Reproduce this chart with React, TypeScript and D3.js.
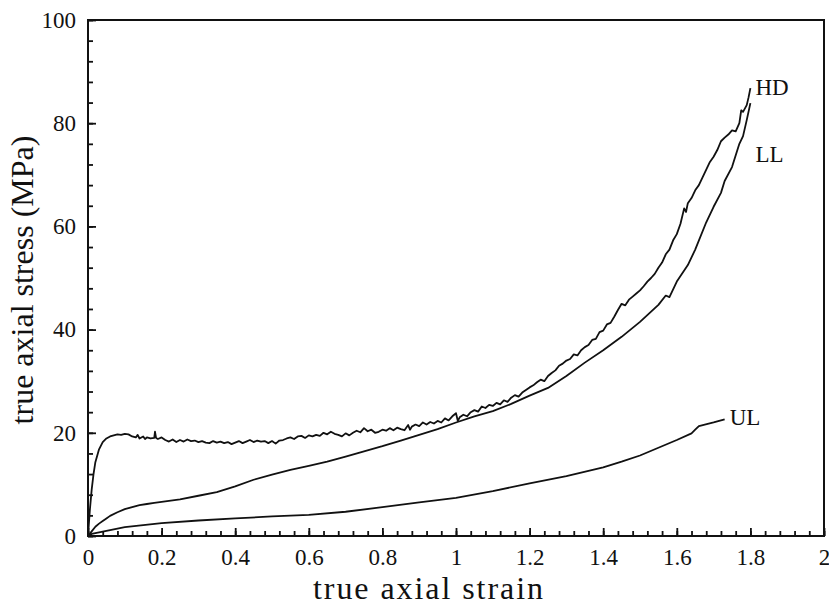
import React, { useEffect, useRef } from 'react';
import * as d3 from 'd3';

// [strain, stress] pairs
const hdCurve: [number, number][] = [
  [0, 0], [0.005, 5], [0.01, 9], [0.015, 12], [0.02, 14.3], [0.03, 16.8], [0.04, 18.2], [0.05, 18.9],
  [0.06, 19.3], [0.07, 19.5], [0.08, 19.7], [0.09, 19.6], [0.1, 19.8], [0.11, 19.7], [0.12, 19.3],
  [0.13, 19.1], [0.135, 19.6], [0.14, 18.9], [0.15, 19.3], [0.155, 18.8], [0.16, 19.1], [0.17, 18.9],
  [0.18, 19.0], [0.182, 20.2], [0.185, 19.0], [0.19, 18.8], [0.2, 19.1], [0.21, 18.6], [0.22, 18.3],
  [0.23, 18.7], [0.24, 18.2], [0.25, 18.6], [0.26, 18.3], [0.27, 18.7], [0.28, 18.4], [0.29, 18.5],
  [0.3, 18.2], [0.31, 18.4], [0.32, 18.1], [0.33, 18.0], [0.34, 18.4], [0.35, 18.1], [0.36, 18.3],
  [0.37, 18.0], [0.38, 18.2], [0.39, 17.8], [0.4, 18.1], [0.41, 18.4], [0.42, 18.0], [0.43, 18.3],
  [0.44, 18.6], [0.45, 18.2], [0.46, 18.5], [0.47, 18.3], [0.48, 18.4], [0.49, 18.0], [0.5, 18.4],
  [0.51, 17.9], [0.52, 18.5], [0.53, 18.6], [0.54, 18.9], [0.55, 19.1], [0.56, 18.8], [0.57, 19.3],
  [0.58, 19.4], [0.59, 19.0], [0.6, 19.5], [0.61, 19.3], [0.62, 19.6], [0.63, 19.4], [0.64, 20.0],
  [0.65, 19.7], [0.66, 20.2], [0.67, 19.8], [0.68, 19.6], [0.69, 19.3], [0.7, 19.9], [0.71, 19.5],
  [0.72, 20.0], [0.73, 20.4], [0.74, 20.1], [0.75, 20.9], [0.76, 20.3], [0.77, 20.6], [0.78, 20.0],
  [0.79, 20.2], [0.8, 20.6], [0.81, 20.4], [0.82, 20.9], [0.83, 20.5], [0.84, 21.0], [0.85, 20.7],
  [0.86, 20.5], [0.87, 21.5], [0.875, 20.6], [0.88, 21.2], [0.89, 21.6], [0.9, 21.3], [0.91, 22.0],
  [0.92, 21.6], [0.93, 22.1], [0.94, 21.8], [0.95, 22.3], [0.96, 22.0], [0.97, 22.8], [0.98, 22.4],
  [0.99, 23.2], [1.0, 23.8], [1.005, 22.3], [1.01, 23.0], [1.02, 23.5], [1.03, 23.2], [1.04, 24.0],
  [1.05, 24.4], [1.06, 24.1], [1.07, 25.1], [1.08, 24.8], [1.09, 25.4], [1.1, 25.2], [1.11, 25.8],
  [1.12, 25.5], [1.13, 26.3], [1.14, 26.0], [1.15, 26.8], [1.16, 27.3], [1.17, 27.0], [1.18, 27.8],
  [1.19, 28.3], [1.2, 28.8], [1.21, 29.2], [1.22, 29.8], [1.23, 30.3], [1.24, 30.0], [1.25, 31.0],
  [1.26, 31.6], [1.27, 32.1], [1.28, 33.0], [1.29, 33.4], [1.3, 34.0], [1.31, 34.3], [1.32, 35.2],
  [1.33, 35.0], [1.34, 36.0], [1.35, 36.6], [1.36, 37.0], [1.37, 38.0], [1.38, 38.2], [1.39, 39.5],
  [1.4, 39.8], [1.41, 41.0], [1.42, 41.3], [1.43, 42.5], [1.44, 43.8], [1.45, 45.0], [1.46, 44.7],
  [1.47, 45.8], [1.48, 46.4], [1.49, 47.0], [1.5, 47.6], [1.51, 48.4], [1.52, 49.3], [1.53, 50.0],
  [1.54, 50.8], [1.55, 52.0], [1.56, 53.0], [1.57, 54.6], [1.58, 55.5], [1.59, 57.3], [1.6, 58.5],
  [1.61, 60.5], [1.62, 63.5], [1.625, 62.8], [1.63, 64.5], [1.64, 65.5], [1.65, 67.0], [1.66, 68.0],
  [1.67, 69.5], [1.68, 71.0], [1.69, 72.5], [1.7, 73.5], [1.71, 74.8], [1.72, 76.5], [1.73, 77.2],
  [1.74, 77.8], [1.75, 78.6], [1.76, 78.4], [1.77, 80.0], [1.775, 82.5], [1.78, 82.2], [1.79, 83.5],
  [1.795, 85.0], [1.8, 86.8],
];

const llCurve: [number, number][] = [
  [0, 0], [0.01, 0.9], [0.02, 1.8], [0.03, 2.4], [0.04, 2.9], [0.05, 3.4], [0.06, 3.9], [0.08, 4.6],
  [0.1, 5.2], [0.12, 5.6], [0.14, 6.0], [0.16, 6.2], [0.18, 6.4], [0.2, 6.6], [0.25, 7.1], [0.3, 7.8],
  [0.35, 8.5], [0.4, 9.6], [0.45, 10.9], [0.5, 11.9], [0.55, 12.8], [0.6, 13.6], [0.65, 14.4],
  [0.7, 15.4], [0.75, 16.4], [0.8, 17.4], [0.85, 18.5], [0.9, 19.6], [0.95, 20.7], [1.0, 22.0],
  [1.05, 23.2], [1.1, 24.2], [1.15, 25.6], [1.2, 27.2], [1.25, 28.7], [1.3, 31.0], [1.35, 33.6],
  [1.4, 36.0], [1.45, 38.6], [1.5, 41.5], [1.55, 44.8], [1.57, 46.6], [1.58, 46.3], [1.6, 49.3],
  [1.63, 52.5], [1.65, 55.5], [1.68, 60.8], [1.7, 63.8], [1.72, 66.5], [1.73, 68.8], [1.75, 71.5],
  [1.77, 76.0], [1.78, 77.5], [1.79, 80.6], [1.8, 83.9],
];

const ulCurve: [number, number][] = [
  [0, 0], [0.01, 0.4], [0.05, 1.0], [0.1, 1.7], [0.15, 2.1], [0.2, 2.5], [0.3, 3.0], [0.4, 3.4],
  [0.5, 3.8], [0.6, 4.1], [0.7, 4.7], [0.8, 5.6], [0.9, 6.5], [1.0, 7.4], [1.1, 8.7], [1.2, 10.2],
  [1.3, 11.6], [1.4, 13.3], [1.45, 14.4], [1.5, 15.6], [1.55, 17.1], [1.6, 18.6], [1.64, 19.9],
  [1.65, 20.6], [1.66, 21.3], [1.7, 22.0], [1.73, 22.6],
];

const curveNames = ['HD', 'LL', 'UL'];
const xMajorTicks = [0, 0.2, 0.4, 0.6, 0.8, 1, 1.2, 1.4, 1.6, 1.8, 2];
const yMajorTicks = [0, 20, 40, 60, 80, 100];

const App = () => {
  const chartRef = useRef<SVGSVGElement | null>(null);

  useEffect(() => {
    const width = 829;
    const height = 606;
    const margin = { top: 20, right: 5, bottom: 70, left: 88 };

    const xScale = d3.scaleLinear().domain([0, 2]).range([margin.left, width - margin.right]);
    const yScale = d3.scaleLinear().domain([0, 100]).range([height - margin.bottom, margin.top]);

    const svg = d3.select(chartRef.current)
      .attr('width', width)
      .attr('height', height);
    svg.selectAll('*').remove();

    const font = '"Liberation Serif", "Times New Roman", serif';

    // minor ticks
    svg.append('g')
      .attr('transform', `translate(0, ${yScale(0)})`)
      .call(d3.axisBottom(xScale).tickValues(d3.range(0, 2.001, 0.04)).tickSize(-5).tickFormat(() => ''))
      .call(g => g.select('.domain').remove());
    svg.append('g')
      .attr('transform', `translate(${xScale(0)}, 0)`)
      .call(d3.axisLeft(yScale).tickValues(d3.range(0, 101, 4)).tickSize(-5).tickFormat(() => ''))
      .call(g => g.select('.domain').remove());

    // major ticks + labels
    svg.append('g')
      .attr('transform', `translate(0, ${yScale(0)})`)
      .call(d3.axisBottom(xScale).tickValues(xMajorTicks).tickSize(-8).tickPadding(13).tickFormat(d => d3.format('~g')(d as number)))
      .call(g => g.select('.domain').remove())
      .call(g => g.selectAll('text').attr('font-family', font).attr('font-size', 23).attr('fill', '#111'));
    svg.append('g')
      .attr('transform', `translate(${xScale(0)}, 0)`)
      .call(d3.axisLeft(yScale).tickValues(yMajorTicks).tickSize(-8).tickPadding(12))
      .call(g => g.select('.domain').remove())
      .call(g => g.selectAll('text').attr('font-family', font).attr('font-size', 23).attr('fill', '#111'));

    svg.selectAll('.tick line').attr('stroke', '#111').attr('stroke-width', 1.8);

    // frame
    svg.append('rect')
      .attr('x', xScale(0))
      .attr('y', yScale(100))
      .attr('width', xScale(2) - xScale(0))
      .attr('height', yScale(0) - yScale(100))
      .attr('fill', 'none')
      .attr('stroke', '#111')
      .attr('stroke-width', 2);

    const line = d3.line<[number, number]>()
      .x(d => xScale(d[0]))
      .y(d => yScale(d[1]));

    [hdCurve, llCurve, ulCurve].forEach(c => {
      svg.append('path')
        .datum(c)
        .attr('d', line)
        .attr('fill', 'none')
        .attr('stroke', '#111')
        .attr('stroke-width', 1.8)
        .attr('stroke-linejoin', 'round');
    });

    // curve labels at the curve ends
    const labelPos: [number, number][] = [[1.8, 87], [1.8, 74], [1.73, 23]];
    labelPos.forEach((p, i) => {
      svg.append('text')
        .attr('x', xScale(p[0]) + 5)
        .attr('y', yScale(p[1]))
        .attr('dy', '0.35em')
        .attr('font-family', font)
        .attr('font-size', 23)
        .attr('fill', '#111')
        .text(curveNames[i]);
    });

    // axis titles
    svg.append('text')
      .attr('x', 428)
      .attr('y', 599)
      .attr('text-anchor', 'middle')
      .attr('font-family', font)
      .attr('font-size', 32)
      .attr('textLength', 230)
      .attr('lengthAdjust', 'spacing')
      .attr('fill', '#111')
      .text('true axial strain');

    svg.append('text')
      .attr('transform', `translate(33, 280) rotate(-90)`)
      .attr('text-anchor', 'middle')
      .attr('font-family', font)
      .attr('font-size', 32)
      .attr('fill', '#111')
      .text('true axial stress (MPa)');
  }, []);

  return (
    <div style={{ position: 'absolute', left: 0, top: 0, width: 829, height: 606, background: '#fff' }}>
      <svg ref={chartRef}></svg>
    </div>
  );
};

export default App;
